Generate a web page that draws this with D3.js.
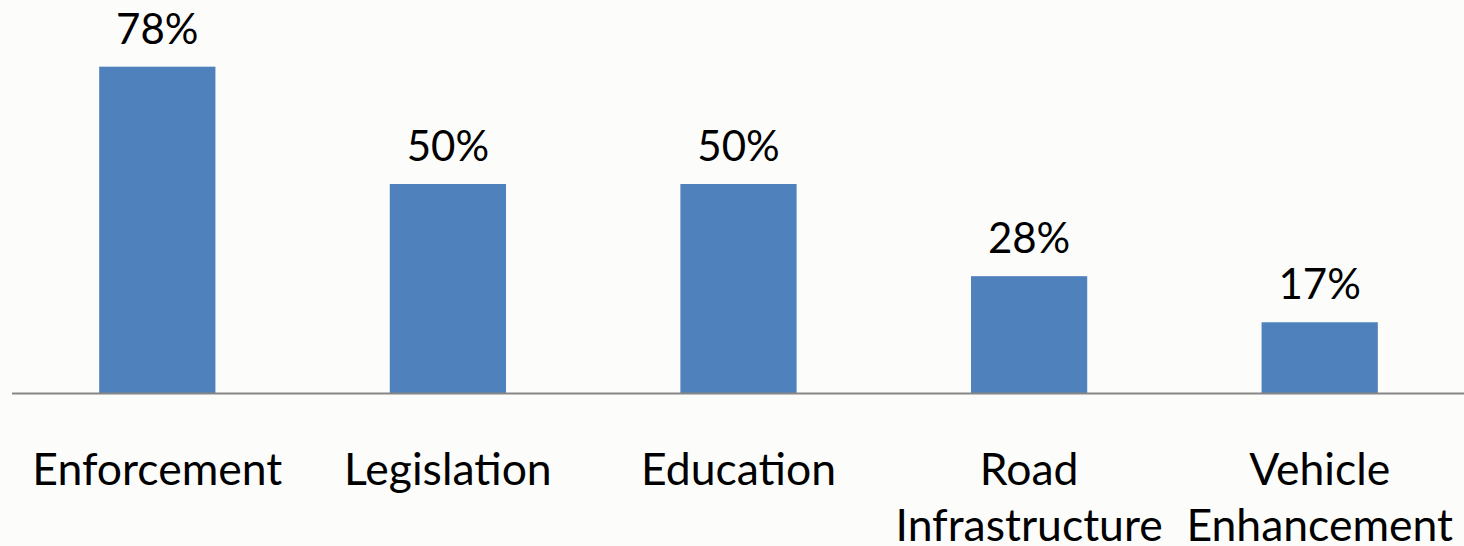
<!DOCTYPE html>
<html>
<head>
<meta charset="utf-8">
<script src="https://cdn.jsdelivr.net/npm/d3@7"></script>
<style>
  html, body { margin: 0; padding: 0; background: #fcfdfb; }
  svg { display: block; }
</style>
</head>
<body>
<svg id="chart" width="1464" height="546"></svg>
<script>
const categories = [["Enforcement"], ["Legislation"], ["Education"], ["Road", "Infrastructure"], ["Vehicle", "Enhancement"]];
const values = [78, 50, 50, 28, 17];
const valueLabels = ["78%", "50%", "50%", "28%", "17%"];

const svg = d3.select("#chart");
const keys = categories.map(c => c.join(" "));

const x = d3.scaleBand().domain(keys).range([12, 1465]).paddingInner(0.6).paddingOuter(0.3);
const y = d3.scaleLinear().domain([0, 80]).range([393.5, 58.3]);

const font = "Lato, 'Open Sans', sans-serif";

svg.selectAll("rect.bar").data(values).enter().append("rect")
  .attr("class", "bar")
  .attr("x", (d, i) => x(keys[i]))
  .attr("width", x.bandwidth())
  .attr("y", d => y(d))
  .attr("height", d => y(0) - y(d))
  .attr("fill", "#4f81bd");

svg.selectAll("text.val").data(values).enter().append("text")
  .attr("class", "val")
  .attr("x", (d, i) => x(keys[i]) + x.bandwidth() / 2)
  .attr("y", d => y(d) - 23)
  .attr("text-anchor", "middle")
  .attr("font-family", font)
  .attr("font-size", 42)
  .attr("fill", "#000")
  .text((d, i) => valueLabels[i]);

const axis = d3.axisBottom(x).tickSize(0).tickFormat(() => "");
const g = svg.append("g").attr("transform", `translate(0,${y(0)})`).call(axis);
g.select(".domain").attr("stroke", "#868686").attr("stroke-width", 2).attr("d", `M12,0H1464`);

categories.forEach((lines, i) => {
  const t = svg.append("text")
    .attr("x", x(keys[i]) + x.bandwidth() / 2)
    .attr("y", 485)
    .attr("text-anchor", "middle")
    .attr("font-family", font)
    .attr("font-size", 44.5)
    .attr("fill", "#000");
  lines.forEach((ln, j) => {
    t.append("tspan").attr("x", x(keys[i]) + x.bandwidth() / 2).attr("dy", j === 0 ? 0 : 56).text(ln);
  });
});
</script>
</body>
</html>
